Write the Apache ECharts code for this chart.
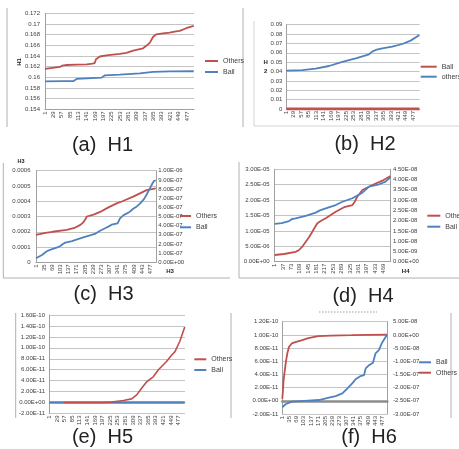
<!DOCTYPE html>
<html>
<head>
<meta charset="utf-8">
<script src="https://cdn.jsdelivr.net/npm/echarts@6/dist/echarts.min.js"></script>
<style>html,body{margin:0;padding:0;background:#fff}#c{width:459px;height:449px}</style>
</head>
<body>
<div id="c"></div>
<script>
// ---- data (x = sample index, 0-based; y = value) ----
const h1Others = [[0,0.16156],[25,0.16175],[50,0.16194],[58,0.1622],[73,0.16231],[106,0.16238],[140,0.16244],[160,0.16255],[167,0.1627],[171,0.1634],[176,0.1637],[184,0.1639],[206,0.1641],[251,0.1644],[273,0.1646],[296,0.1650],[329,0.16544],[340,0.1659],[352,0.1665],[363,0.1676],[374,0.16806],[396,0.16825],[418,0.16838],[440,0.1686],[452,0.1687],[474,0.1692],[499,0.16963]];
const h1Ball = [[0,0.15925],[60,0.15927],[95,0.15928],[100,0.15965],[106,0.1597],[140,0.1598],[190,0.15994],[195,0.16025],[200,0.16035],[251,0.1605],[318,0.16075],[363,0.161],[420,0.1611],[499,0.16113]];
const h2Ball = [[0,0],[499,0]];
const h2Others = [[0,0.0409],[60,0.0416],[110,0.0431],[160,0.0459],[210,0.0502],[260,0.0541],[310,0.0584],[322,0.0612],[335,0.063],[360,0.0648],[397,0.0665],[435,0.0694],[466,0.073],[499,0.079]];
const h3Others = [[0,0.000179],[40,0.000193],[69,0.0002],[128,0.000212],[160,0.000225],[185,0.000245],[197,0.000262],[205,0.00028],[212,0.0003],[220,0.000306],[240,0.000312],[267,0.00033],[300,0.000358],[336,0.000386],[360,0.0004],[405,0.00043],[461,0.000473],[499,0.000484]];
const h3Ball = [[0,4.4e-8],[25,8e-8],[45,1.2e-7],[58,1.36e-7],[86,1.6e-7],[100,1.75e-7],[112,2.0e-7],[122,2.15e-7],[150,2.32e-7],[165,2.45e-7],[172,2.62e-7],[200,2.75e-7],[225,2.95e-7],[245,3.1e-7],[267,3.45e-7],[290,3.75e-7],[305,3.95e-7],[315,4.1e-7],[340,4.25e-7],[350,4.8e-7],[365,5.15e-7],[390,5.5e-7],[405,5.85e-7],[420,6.1e-7],[433,6.4e-7],[450,6.9e-7],[461,7.4e-7],[475,8.1e-7],[485,8.6e-7],[492,8.9e-7],[499,8.95e-7]];
const h4Others = [[0,2.17e-6],[40,2.5e-6],[90,3.2e-6],[105,3.8e-6],[120,5e-6],[134,6.5e-6],[150,8.2e-6],[162,9.7e-6],[172,1.1e-5],[184,1.25e-5],[200,1.33e-5],[220,1.41e-5],[263,1.62e-5],[299,1.77e-5],[335,1.84e-5],[345,1.95e-5],[356,2.11e-5],[378,2.33e-5],[421,2.49e-5],[464,2.63e-5],[499,2.78e-5]];
const h4Ball = [[0,1.84e-8],[30,1.88e-8],[62,1.98e-8],[75,2.08e-8],[90,2.11e-8],[134,2.23e-8],[177,2.39e-8],[195,2.5e-8],[220,2.6e-8],[263,2.76e-8],[292,2.92e-8],[335,3.09e-8],[378,3.36e-8],[407,3.66e-8],[450,3.77e-8],[478,3.9e-8],[499,4.11e-8]];
const h5Ball = [[0,0],[499,0]];
const h5Others = [[55,0],[200,0.02e-11],[230,0.1e-11],[273,0.37e-11],[303,0.67e-11],[322,1.4e-11],[340,2.6e-11],[359,3.8e-11],[383,4.7e-11],[402,6e-11],[432,7.5e-11],[451,8.7e-11],[463,9.3e-11],[481,1.12e-10],[499,1.38e-10]];
const h6Others = [[0,0.3e-11],[3,1.5e-11],[6,3.1e-11],[11,4.4e-11],[17,5.9e-11],[24,7.2e-11],[32,8.2e-11],[45,8.7e-11],[62,8.9e-11],[95,9.2e-11],[124,9.5e-11],[171,9.8e-11],[233,9.9e-11],[329,9.95e-11],[499,1.005e-10]];
const h6Ball = [[0,-2.75e-7],[15,-2.63e-7],[45,-2.53e-7],[105,-2.5e-7],[175,-2.47e-7],[222,-2.38e-7],[254,-2.32e-7],[286,-2.22e-7],[310,-2.03e-7],[333,-1.84e-7],[349,-1.68e-7],[373,-1.56e-7],[389,-1.53e-7],[397,-1.27e-7],[413,-1.15e-7],[432,-1.06e-7],[444,-0.7e-7],[460,-0.58e-7],[473,-0.33e-7],[492,-0.08e-7],[499,0]];
// tick label steps of the category axes (labels 1, 1+step, ...)
const xSteps = [28, 28, 34, 36, 28, 34];
const sampleCount = 500;
const captions = ['(a)  H1','(b)  H2','(c)  H3','(d)  H4','(e)  H5','(f)  H6'];

const FONT = 'Liberation Sans, Arial, sans-serif';
const RED = '#C0504D', BLUE = '#4F81BD';
const LBL = '#404040';

function expFmt(v){
  if (Math.abs(v) < 1e-15) return '0.00E+00';
  const s = v.toExponential(2);
  const parts = s.split('e');
  const n = parseInt(parts[1],10);
  const a = Math.abs(n);
  return parts[0] + 'E' + (n<0?'-':'+') + (a<10?'0'+a:a);
}
function decFmt(d){ return v => String(+v.toFixed(d)); }

const grids = [
  {left:45, top:13.3, width:149, height:96},
  {left:286.3, top:24.7, width:133.4, height:84.3},
  {left:36, top:170.7, width:120, height:91.6},
  {left:274.7, top:169.3, width:116, height:92.4},
  {left:49.3, top:315, width:135.7, height:98.5},
  {left:282.3, top:321.7, width:105, height:92.3}
].map(g => Object.assign({containLabel:false, outerBoundsMode:'none'}, g));

const xAxis = grids.map((g,i) => {
  const step = xSteps[i];
  return {
    type:'value', gridIndex:i, min:0, max:sampleCount, interval:step,
    axisLine:{show:true, onZero: (i===4||i===5), onZeroAxisIndex: i===5?7:undefined,
      lineStyle:{color: i===5?'#8c8c8c':'#a0a0a0', width: i===5?2.5:1}},
    axisTick:{show:false}, splitLine:{show:false},
    axisLabel:{rotate:90, fontSize:6, margin:2, color:LBL, fontFamily:FONT,
      formatter: v => (Math.round(v)%step===0 && v<sampleCount) ? String(Math.round(v)+1) : ''}
  };
});
if (xAxis[5].axisLine.onZeroAxisIndex === undefined) delete xAxis[5].axisLine.onZeroAxisIndex;
delete xAxis[4].axisLine.onZeroAxisIndex;
for (let i=0;i<4;i++) delete xAxis[i].axisLine.onZeroAxisIndex;

function yAx(gi, min, max, interval, fmt, opts){
  opts = opts || {};
  return {
    type:'value', gridIndex:gi, min, max, interval,
    position: opts.right ? 'right' : 'left',
    axisLine:{show:true, onZero:false, lineStyle:{color:'#a0a0a0'}},
    axisTick:{show:false},
    splitLine:{show: !opts.right, lineStyle:{color:'#c4c4c4', width:1}},
    axisLabel:{fontSize:6, margin: opts.margin || 4.5, color:LBL, fontFamily:FONT, formatter:fmt}
  };
}
const yAxis = [
  yAx(0, 0.154, 0.172, 0.002, decFmt(3), {margin:5}),
  yAx(1, 0, 0.09, 0.01, decFmt(2), {margin:4}),
  yAx(2, 0, 0.0006, 0.0001, decFmt(4), {margin:5.5}),
  yAx(2, 0, 1e-6, 1e-7, expFmt, {right:true, margin:2.3}),
  yAx(3, 0, 3e-5, 5e-6, expFmt, {margin:5}),
  yAx(3, 0, 4.5e-8, 5e-9, expFmt, {right:true, margin:2.3}),
  yAx(4, -2e-11, 1.6e-10, 2e-11, expFmt, {margin:4.3}),
  yAx(5, -2e-11, 1.2e-10, 2e-11, expFmt, {margin:4}),
  yAx(5, -3e-7, 5e-8, 5e-8, expFmt, {right:true, margin:5.7})
];

function ln(name, data, xi, yi, color, w){
  return {type:'line', name, data, xAxisIndex:xi, yAxisIndex:yi, symbol:'none',
    lineStyle:{color, width:w||1.8}, itemStyle:{color}, animation:false, silent:true};
}
const series = [
  ln('Others_a', h1Others, 0, 0, RED),
  ln('Ball_a', h1Ball, 0, 0, BLUE),
  ln('others_b', h2Others, 1, 1, BLUE),
  ln('Ball_b', h2Ball, 1, 1, RED, 2.8),
  ln('Others_c', h3Others, 2, 2, RED),
  ln('Ball_c', h3Ball, 2, 3, BLUE),
  ln('Others_d', h4Others, 3, 4, RED),
  ln('Ball_d', h4Ball, 3, 5, BLUE),
  ln('Ball_e', h5Ball, 4, 6, BLUE, 2.6),
  ln('Others_e', h5Others, 4, 6, RED, 1.6),
  ln('Others_f', h6Others, 5, 7, RED),
  ln('Ball_f', h6Ball, 5, 8, BLUE)
];

function lg(left, top, gap, w, data){
  return {orient:'vertical', left, top, itemGap:gap, itemWidth:w, itemHeight:2, icon:'rect',
    padding:0, selectedMode:false, data,
    formatter: n => n.replace(/_.*/, ''),
    textStyle:{fontSize:7, color:LBL, fontFamily:FONT}};
}
const legend = [
  lg(205, 57.5, 4, 13, ['Others_a','Ball_a']),
  lg(420.7, 63.2, 3, 16, ['Ball_b','others_b']),
  lg(180, 212.5, 4.3, 11, ['Others_c','Ball_c']),
  lg(427.3, 212.2, 4, 13, ['Others_d','Ball_d']),
  lg(194.3, 355.8, 3.7, 12, ['Others_e','Ball_e']),
  lg(419, 358.8, 3.4, 12, ['Ball_f','Others_f'])
];

function gline(x1,y1,x2,y2,color,extra){
  return {type:'line', silent:true, shape:{x1,y1,x2,y2},
    style:Object.assign({stroke:color||'#b0b0b0', lineWidth:1}, extra||{})};
}
function gtext(x,y,text,size,opts){
  opts = opts || {};
  return {type:'text', x, y, rotation: opts.rot||0, silent:true,
    style:{text, fontSize:size, fontFamily:FONT, fontWeight: opts.bold?'bold':'normal',
      fill: opts.color||'#222', align:'center', verticalAlign:'middle'}};
}
const capPos = [[102.5,145],[365,144.5],[103.5,294],[363,296],[102.5,437],[369,437]];
const graphic = [
  gline(7,8,7,127),
  gline(243,8,243,127),
  gline(254,21,254,126,'#d4d4d4'),
  gline(254,126,459,126,'#d4d4d4'),
  gline(3.3,163,3.3,278),
  gline(3.3,278,230,278),
  gline(239,162,239,278),
  gline(239,278,459,278),
  gline(15.7,313,15.7,418),
  gline(231,313,231,418),
  gline(451,313,451,418),
  gline(319,312,377,312,'#c0c0c0',{lineWidth:1.5, lineDash:[1.5,1.5]}),
  gtext(19,62,'H1',6,{bold:true, rot:Math.PI/2}),
  gtext(265.7,62.3,'H',6,{bold:true}),
  gtext(265.7,71,'2',6,{bold:true}),
  gtext(21,161.5,'H3',5.5,{bold:true}),
  gtext(170,271.7,'H3',6,{bold:true}),
  gtext(405.7,271.7,'H4',6,{bold:true})
].concat(captions.map((c,i) => gtext(capPos[i][0], capPos[i][1], c, 20)));

const chart = echarts.init(document.getElementById('c'), null, {renderer:'canvas'});
chart.setOption({
  backgroundColor:'#fff', animation:false,
  textStyle:{fontFamily:FONT},
  grid:grids, xAxis, yAxis, series, legend, graphic:{elements:graphic}
});
</script>
</body>
</html>
